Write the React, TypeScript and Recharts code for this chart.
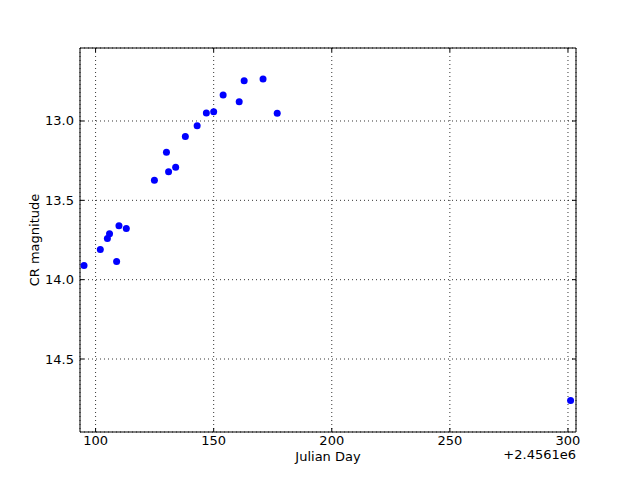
import React from 'react';
import { ScatterChart, Scatter, XAxis, YAxis, CartesianGrid, Label } from 'recharts';

// Julian day offsets (from 2.4561e6) and CR magnitudes
const julianDays = [95.1, 102.0, 105.0, 105.9, 108.9, 109.9, 113.0, 124.9, 130.0, 130.9, 133.9, 138.0, 143.0, 146.9, 150.0, 154.0, 160.8, 162.9, 170.9, 176.9, 301.1];
const magnitudes = [13.91, 13.81, 13.74, 13.71, 13.885, 13.66, 13.677, 13.374, 13.197, 13.32, 13.292, 13.097, 13.03, 12.95, 12.941, 12.836, 12.878, 12.746, 12.735, 12.951, 14.761];

const xTicks = [100, 150, 200, 250, 300];
const yTicks = [13.0, 13.5, 14.0, 14.5];

const data = julianDays.map((jd, i) => ({ jd, mag: magnitudes[i] }));

const FONT = '"DejaVu Sans", sans-serif';

const BottomTick = (props: any) => {
    const { x, y, payload } = props;
    return (
        <g>
            <line x1={x} x2={x} y1={y} y2={y - 4} stroke="#000" />
            <text x={x} y={y + 13} textAnchor="middle" fontSize={13} fontFamily={FONT} fill="#000">
                {payload.value}
            </text>
        </g>
    );
};

const TopTick = (props: any) => {
    const { x, y } = props;
    return <line x1={x} x2={x} y1={y} y2={y + 4} stroke="#000" />;
};

const LeftTick = (props: any) => {
    const { x, y, payload } = props;
    return (
        <g>
            <line x1={x} x2={x + 4} y1={y} y2={y} stroke="#000" />
            <text x={x - 6} y={y + 4.5} textAnchor="end" fontSize={13} fontFamily={FONT} fill="#000">
                {Number(payload.value).toFixed(1)}
            </text>
        </g>
    );
};

const RightTick = (props: any) => {
    const { x, y } = props;
    return <line x1={x} x2={x - 4} y1={y} y2={y} stroke="#000" />;
};

const Dot = (props: any) => <circle cx={props.cx} cy={props.cy} r={3.5} fill="#0000ff" />;
const NoDot = () => <g />;

export default function App() {
    return (
        <div style={{ position: 'absolute', left: 0, top: 0, width: 640, height: 480, background: '#fff' }}>
            <ScatterChart width={640} height={480} margin={{ top: 47, right: 63, bottom: 0, left: 0 }}>
                <CartesianGrid stroke="#000" strokeDasharray="1 3" strokeWidth={0.8} />
                <XAxis
                    type="number"
                    dataKey="jd"
                    domain={[93.4, 303.4]}
                    ticks={xTicks}
                    allowDataOverflow
                    height={48}
                    tickSize={0}
                    tickMargin={0}
                    stroke="#000"
                    tick={<BottomTick />}
                >
                    <Label
                        content={({ viewBox }: any) => (
                            <g fontFamily={FONT} fontSize={13} fill="#000">
                                <text x={viewBox.x + viewBox.width / 2} y={viewBox.y + 29} textAnchor="middle">Julian Day</text>
                                <text x={viewBox.x + viewBox.width} y={viewBox.y + 27} textAnchor="end">+2.4561e6</text>
                            </g>
                        )}
                    />
                </XAxis>
                <XAxis
                    xAxisId="top"
                    orientation="top"
                    type="number"
                    dataKey="jd"
                    domain={[93.4, 303.4]}
                    ticks={xTicks}
                    allowDataOverflow
                    height={1}
                    tickSize={0}
                    tickMargin={0}
                    stroke="#000"
                    tick={<TopTick />}
                />
                <YAxis
                    type="number"
                    dataKey="mag"
                    domain={[12.54, 14.96]}
                    reversed
                    ticks={yTicks}
                    allowDataOverflow
                    width={80}
                    tickSize={0}
                    tickMargin={0}
                    stroke="#000"
                    tick={<LeftTick />}
                >
                    <Label
                        content={() => (
                            <text x={39} y={240} textAnchor="middle" fontFamily={FONT} fontSize={13} fill="#000" transform="rotate(-90, 39, 240)">
                                CR magnitude
                            </text>
                        )}
                    />
                </YAxis>
                <YAxis
                    yAxisId="right"
                    orientation="right"
                    type="number"
                    dataKey="mag"
                    domain={[12.54, 14.96]}
                    reversed
                    ticks={yTicks}
                    allowDataOverflow
                    width={1}
                    tickSize={0}
                    tickMargin={0}
                    stroke="#000"
                    tick={<RightTick />}
                />
                <Scatter xAxisId="top" yAxisId="right" data={data} shape={<NoDot />} isAnimationActive={false} />
                <Scatter data={data} shape={<Dot />} isAnimationActive={false} />
            </ScatterChart>
        </div>
    );
}
